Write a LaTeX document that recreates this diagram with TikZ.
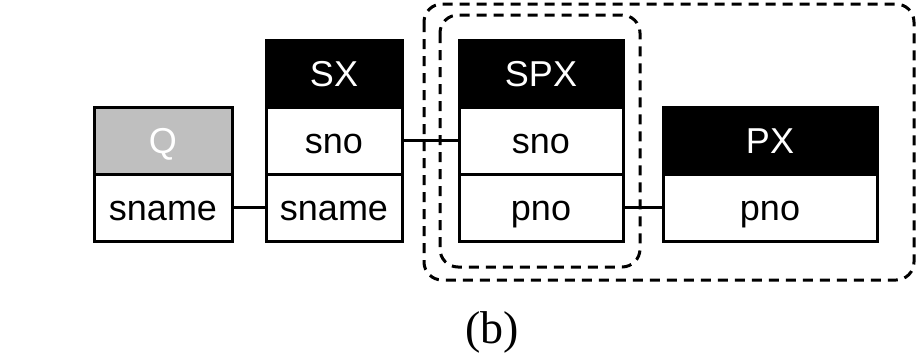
\documentclass[tikz,border=0pt]{standalone}
\usepackage{fontspec}
\setmainfont{Liberation Serif}
\setsansfont{Liberation Sans}
\usepackage{xcolor}

\begin{document}
\begin{tikzpicture}[x=0.5pt, y=-0.5pt,
  cell/.style={rectangle, draw=black, line width=1.5pt, minimum height=33.5pt, inner sep=0pt, text height=14.5pt, text depth=2pt, fill=white, font=\sffamily\fontsize{18}{21}\selectfont},
  head/.style={cell, fill=black, text=white},
  qhead/.style={cell, fill=black!25, draw=black, text=white},
  link/.style={line width=1.5pt, draw=black},
  group/.style={draw=black, line width=1.5pt, dash pattern=on 5pt off 3.5pt, rounded corners=9pt}
]
\useasboundingbox (0,0) rectangle (917,355);
% Q
\node[qhead, minimum width=69pt] (qhead) at (163,140.5) {Q};
\node[cell, minimum width=69pt] (qsname) at (163,207.5) {sname};
% SX
\node[head, minimum width=68pt] (sxhead) at (334,73.5) {SX};
\node[cell, minimum width=68pt] (sxsno) at (334,140.5) {sno};
\node[cell, minimum width=68pt] (sxsname) at (334,207.5) {sname};
% SPX
\node[head, minimum width=82pt] (spxhead) at (541,73.5) {SPX};
\node[cell, minimum width=82pt] (spxsno) at (541,140.5) {sno};
\node[cell, minimum width=82pt] (spxpno) at (541,207.5) {pno};
% PX
\node[head, minimum width=107pt] (pxhead) at (770,140.5) {PX};
\node[cell, minimum width=107pt] (pxpno) at (770,207.5) {pno};
% joins
\draw[link] (qsname) -- (sxsname);
\draw[link] (sxsno) -- (spxsno);
\draw[link] (spxpno) -- (pxpno);
% groups
\draw[group] (440,15) rectangle (640,267);
\draw[group] (424,4) rectangle (914,280);
\node[font=\fontsize{23}{26}\selectfont] (cap) at (492,332) {(b)};
\end{tikzpicture}
\end{document}
